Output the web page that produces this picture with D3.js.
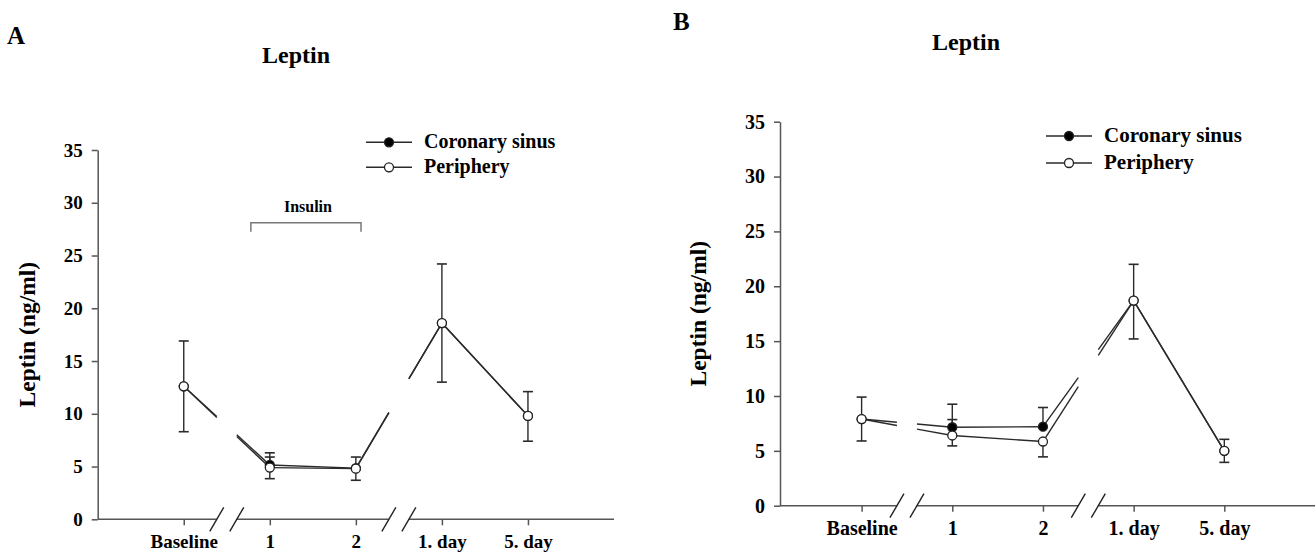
<!DOCTYPE html>
<html>
<head>
<meta charset="utf-8">
<script src="https://cdn.jsdelivr.net/npm/d3@7"></script>
<style>
  body { margin: 0; background: #fff; }
  text { font-family: "Liberation Serif", "Times New Roman", serif; font-weight: bold; fill: #000; }
</style>
</head>
<body>
<svg id="chart"></svg>
<script>
// categories and ticks
let categories = ["Baseline", "1", "2", "1. day", "5. day"]
let yTicks = [0, 5, 10, 15, 20, 25, 30, 35]
let seriesNames = ["Coronary sinus", "Periphery"]

// panel A values (ng/ml), null = no whisker drawn
let aCoronary   = [12.6, 5.15, 4.85, 18.6, 9.8]
let aCoronaryHi = [null, 6.3, null, null, null]
let aCoronaryLo = [null, null, null, null, null]
let aPeriphery   = [12.6, 4.9, 4.8, 18.6, 9.8]
let aPeripheryHi = [16.9, 5.9, 5.9, 24.2, 12.1]
let aPeripheryLo = [8.3, 3.85, 3.7, 13.0, 7.4]

// panel B values
let bCoronary   = [7.9, 7.15, 7.2, 18.7, 5.0]
let bCoronaryHi = [null, 9.25, 8.95, null, null]
let bCoronaryLo = [null, null, null, null, null]
let bPeriphery   = [7.9, 6.4, 5.85, 18.7, 5.0]
let bPeripheryHi = [9.9, 7.85, null, 22.0, 6.05]
let bPeripheryLo = [5.9, 5.45, 4.45, 15.2, 3.95]

// axis breaks sit between Baseline/1 and 2/1. day
let breaks = [0.5, 2.5]

let svg = d3.select("#chart").attr("width", 1315).attr("height", 554)

let lineColor = "#2a2a2a"
let axisColor = "#555"

let drawPanel = (p) => {
    let x = d3.scaleLinear().domain(p.xDomain).range([p.left, p.right])
    let y = d3.scaleLinear().domain([0, 35]).range([p.bottom, p.top])
    let g = svg.append("g")

    // panel letter + title
    g.append("text").attr("x", p.letterX).attr("y", p.letterY)
        .style("font-size", "25px").text(p.letter)
    g.append("text").attr("x", p.titleX).attr("y", p.titleY)
        .attr("text-anchor", "middle").style("font-size", "24px").text("Leptin")

    // y axis
    let yAxis = d3.axisLeft(y).tickValues(yTicks).tickSize(6).tickSizeOuter(0).tickPadding(9)
    let yg = g.append("g").attr("transform", "translate(" + p.left + ",0)").call(yAxis)
    yg.selectAll("path, line").attr("stroke", axisColor).attr("stroke-width", 1.5)
    yg.selectAll("text").style("font-size", p.fs + "px").attr("fill", "#000")

    g.append("text")
        .attr("transform", "translate(" + p.ylabX + "," + ((p.top + p.bottom) / 2) + ") rotate(-90)")
        .attr("text-anchor", "middle").style("font-size", p.labFs + "px")
        .text("Leptin (ng/ml)")

    // x axis, domain line drawn by hand so it can be broken
    let xAxis = d3.axisBottom(x).tickValues(d3.range(categories.length))
        .tickFormat((i) => categories[i]).tickSize(6).tickSizeOuter(0).tickPadding(9)
    let xg = g.append("g").attr("transform", "translate(0," + p.bottom + ")").call(xAxis)
    xg.select(".domain").remove()
    xg.selectAll("line").attr("stroke", axisColor).attr("stroke-width", 1.5)
    xg.selectAll("text").style("font-size", p.fs + "px").attr("fill", "#000")

    let stops = [p.left]
    breaks.forEach((b) => { stops.push(x(b) - p.gap, x(b) + p.gap) })
    stops.push(p.right)
    for (let i = 0; i < stops.length; i += 2) {
        g.append("line").attr("x1", stops[i]).attr("x2", stops[i + 1])
            .attr("y1", p.bottom).attr("y2", p.bottom)
            .attr("stroke", axisColor).attr("stroke-width", 1.5)
    }
    breaks.forEach((b) => {
        [-p.gap, p.gap].forEach((d) => {
            g.append("line")
                .attr("x1", x(b) + d - 7).attr("y1", p.bottom + 12)
                .attr("x2", x(b) + d + 7).attr("y2", p.bottom - 12)
                .attr("stroke", "#222").attr("stroke-width", 1.4)
        })
    })

    // split a series into pieces, leaving a hole at each break
    let pieces = (vals) => {
        let out = []
        for (let i = 0; i < vals.length - 1; i++) {
            let x1 = x(i), y1 = y(vals[i]), x2 = x(i + 1), y2 = y(vals[i + 1])
            let b = breaks.find((bb) => bb > i && bb < i + 1)
            if (b === undefined) {
                out.push([[x1, y1], [x2, y2]])
            } else {
                let at = (xx) => y1 + (y2 - y1) * (xx - x1) / (x2 - x1)
                let xa = x(b) - p.gap, xb = x(b) + p.gap
                out.push([[x1, y1], [xa, at(xa)]])
                out.push([[xb, at(xb)], [x2, y2]])
            }
        }
        return out
    }

    let series = [
        {vals: p.coronary, hi: p.coronaryHi, lo: p.coronaryLo, fill: "#000"},
        {vals: p.periphery, hi: p.peripheryHi, lo: p.peripheryLo, fill: "#fff"}
    ]

    series.forEach((s) => {
        g.selectAll(null).data(pieces(s.vals)).enter().append("path")
            .attr("d", d3.line()).attr("fill", "none")
            .attr("stroke", lineColor).attr("stroke-width", 1.4)
    })

    series.forEach((s) => {
        let bars = []
        s.vals.forEach((v, i) => {
            if (s.hi[i] != null) bars.push([i, v, s.hi[i]])
            if (s.lo[i] != null) bars.push([i, v, s.lo[i]])
        })
        g.selectAll(null).data(bars).enter().append("line")
            .attr("x1", (d) => x(d[0])).attr("x2", (d) => x(d[0]))
            .attr("y1", (d) => y(d[1])).attr("y2", (d) => y(d[2]))
            .attr("stroke", lineColor).attr("stroke-width", 1.4)
        g.selectAll(null).data(bars).enter().append("line")
            .attr("x1", (d) => x(d[0]) - 5).attr("x2", (d) => x(d[0]) + 5)
            .attr("y1", (d) => y(d[2])).attr("y2", (d) => y(d[2]))
            .attr("stroke", lineColor).attr("stroke-width", 1.6)
    })

    series.forEach((s) => {
        g.selectAll(null).data(s.vals).enter().append("circle")
            .attr("cx", (d, i) => x(i)).attr("cy", (d) => y(d))
            .attr("r", 4.5).attr("fill", s.fill)
            .attr("stroke", "#222").attr("stroke-width", 1.3)
    })

    // legend
    series.forEach((s, i) => {
        let ly = p.legY + i * p.legStep
        g.append("line").attr("x1", p.legX).attr("x2", p.legX + 46)
            .attr("y1", ly).attr("y2", ly).attr("stroke", lineColor).attr("stroke-width", 1.4)
        g.append("circle").attr("cx", p.legX + 23).attr("cy", ly).attr("r", 4.5)
            .attr("fill", s.fill).attr("stroke", "#222").attr("stroke-width", 1.3)
        g.append("text").attr("x", p.legX + 58).attr("y", ly + 6)
            .style("font-size", p.legFs + "px").text(seriesNames[i])
    })

    if (p.bracket) {
        let bx1 = x(p.bracket[0]), bx2 = x(p.bracket[1]), by = y(p.bracket[2])
        g.append("path")
            .attr("d", "M" + bx1 + "," + (by + 9) + "V" + by + "H" + bx2 + "V" + (by + 9))
            .attr("fill", "none").attr("stroke", "#777").attr("stroke-width", 1.5)
        g.append("text").attr("x", (bx1 + bx2) / 2 + 2).attr("y", by - 11)
            .attr("text-anchor", "middle").style("font-size", "16px").text("Insulin")
    }
}

drawPanel({
    letter: "A", letterX: 7, letterY: 44, titleX: 296, titleY: 63,
    left: 97.7, right: 614, top: 150, bottom: 519.3, xDomain: [-1, 5], gap: 10,
    fs: 19, labFs: 23.5, ylabX: 35,
    legX: 366, legY: 142.3, legStep: 25, legFs: 20,
    coronary: aCoronary, coronaryHi: aCoronaryHi, coronaryLo: aCoronaryLo,
    periphery: aPeriphery, peripheryHi: aPeripheryHi, peripheryLo: aPeripheryLo,
    bracket: [0.78, 2.06, 28.1]
})

drawPanel({
    letter: "B", letterX: 673, letterY: 30, titleX: 966, titleY: 50,
    left: 780, right: 1315, top: 121.7, bottom: 505.7, xDomain: [-0.9, 5], gap: 10,
    fs: 20, labFs: 23.5, ylabX: 706,
    legX: 1046, legY: 136, legStep: 27, legFs: 21,
    coronary: bCoronary, coronaryHi: bCoronaryHi, coronaryLo: bCoronaryLo,
    periphery: bPeriphery, peripheryHi: bPeripheryHi, peripheryLo: bPeripheryLo,
    bracket: null
})
</script>
</body>
</html>
